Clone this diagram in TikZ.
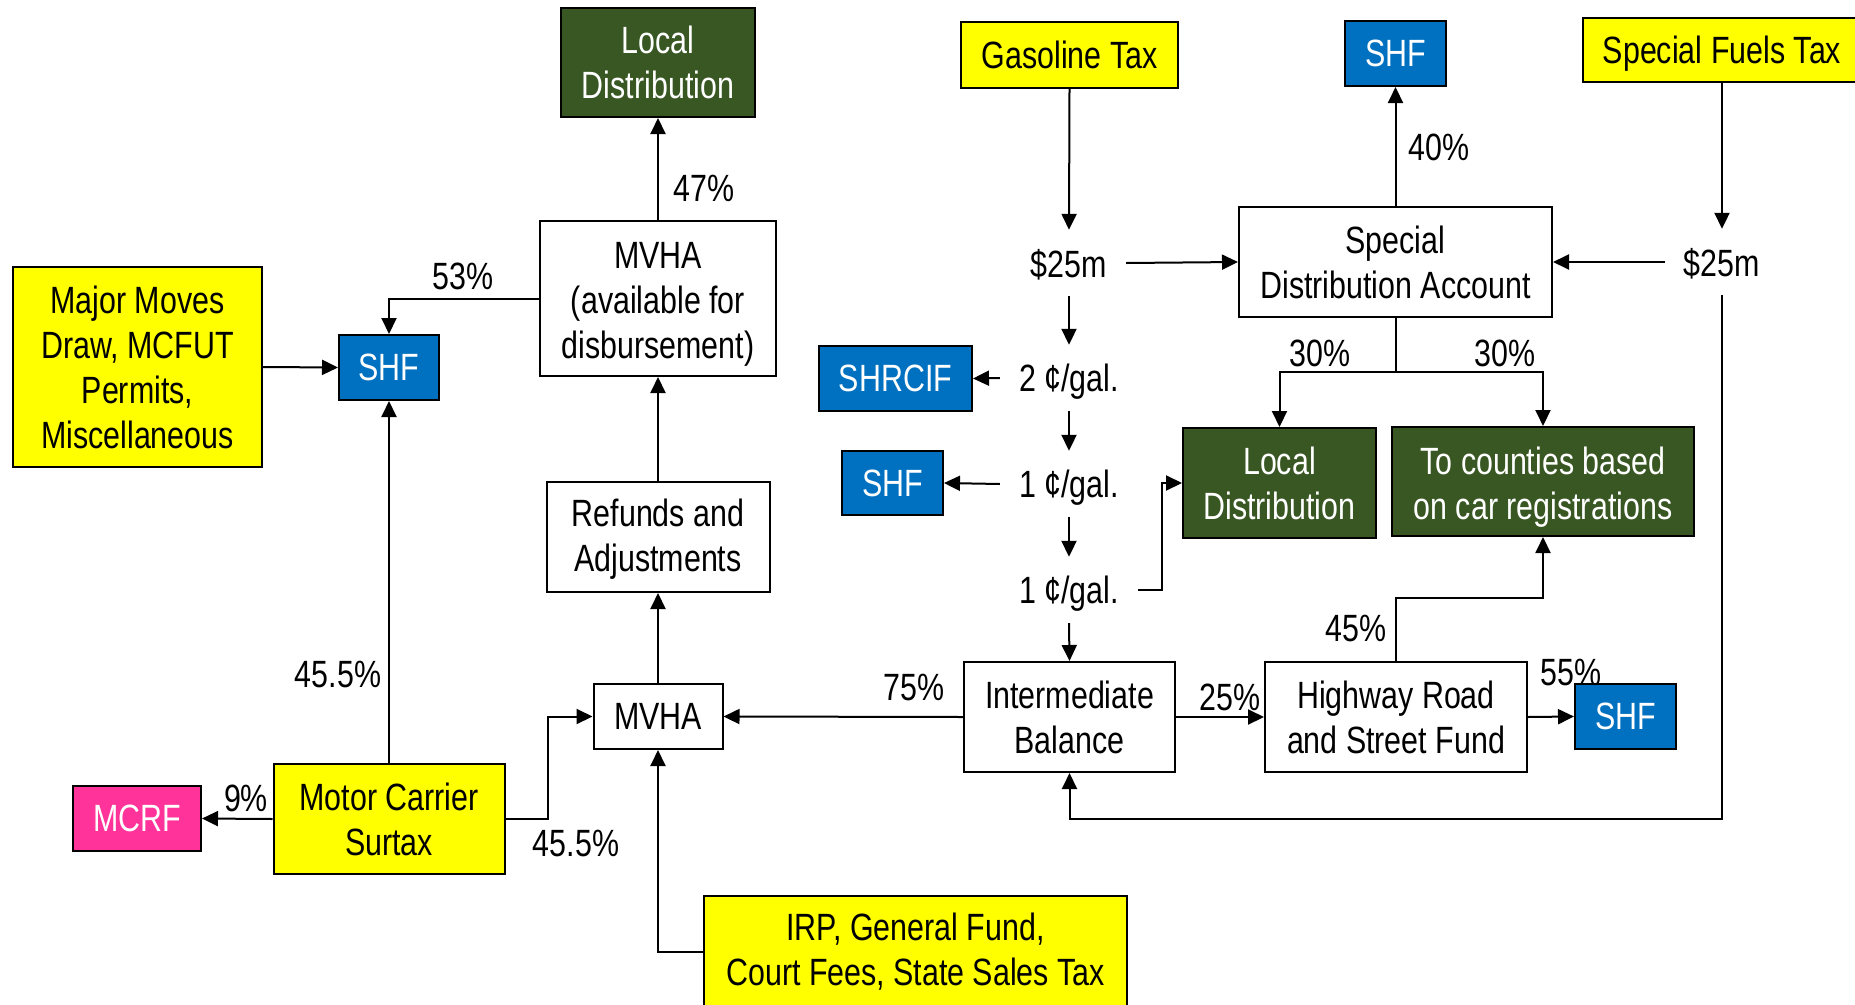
\documentclass[tikz,border=0pt]{standalone}
\usepackage{fontspec}
\setmainfont{Liberation Sans}[FakeStretch=0.8]
\usetikzlibrary{arrows.meta,calc}
\definecolor{yel}{HTML}{FFFF00}
\definecolor{blu}{HTML}{0070C0}
\definecolor{grn}{HTML}{385723}
\definecolor{pnk}{HTML}{FF3399}
\begin{document}
\begin{tikzpicture}[x=1pt,y=-1pt,
  every node/.style={font=\fontsize{38}{45}\selectfont},
  bx/.style={draw=black, line width=2pt, inner sep=0pt, align=center},
  wbox/.style={bx, fill=white},
  ybox/.style={bx, fill=yel},
  bbox/.style={bx, fill=blu, text=white},
  gbox/.style={bx, fill=grn, text=white},
  pbox/.style={bx, fill=pnk, text=white},
  flow/.style={inner xsep=19pt, inner ysep=0pt, minimum height=66pt, text depth=0pt},
  lab/.style={inner sep=0pt},
  ln/.style={line width=2pt},
  conn/.style={line width=2pt, -{Triangle[length=16pt,width=15pt]}}
]
\useasboundingbox (0,0) rectangle (1855,1004);
\fill[white] (0,0) rectangle (1855,1004);

% boxes
\node[gbox, minimum width=194pt, minimum height=109pt] (locT) at (658,62.5) {Local\\Distribution};
\node[wbox, minimum width=236pt, minimum height=155pt] (mvhaA) at (658,298.5) {\rule{0pt}{37pt}MVHA\\(available for\\disbursement)};
\node[ybox, minimum width=249pt, minimum height=200pt] (major) at (137.5,367) {Major Moves\\Draw, MCFUT\\Permits,\\Miscellaneous};
\node[bbox, minimum width=100pt, minimum height=65pt] (shfL) at (389,367.5) {SHF};
\node[wbox, minimum width=223pt, minimum height=110pt] (ref) at (658,537) {\rule{0pt}{31pt}Refunds and\\Adjustments};
\node[wbox, minimum width=129pt, minimum height=65pt] (mvhaS) at (658,716.5) {MVHA};
\node[ybox, minimum width=231pt, minimum height=110pt] (mcs) at (389,819) {Motor Carrier\\Surtax};
\node[pbox, minimum width=128pt, minimum height=65pt] (mcrf) at (137,818.5) {MCRF};
\node[ybox, minimum width=423pt, minimum height=112pt] (irp) at (915.5,952) {IRP, General Fund,\\Court Fees, State Sales Tax};

\node[ybox, minimum width=217pt, minimum height=66pt] (gas) at (1069.5,55) {Gasoline Tax};
\node[bbox, minimum width=101pt, minimum height=65pt] (shfT) at (1395.5,53.5) {SHF};
\node[ybox, minimum width=279pt, minimum height=64pt, text depth=0pt] (sft) at (1722,50) {Special Fuels Tax};
\node[wbox, minimum width=313pt, minimum height=110pt] (sda) at (1395.5,262) {Special\\Distribution Account};
\node[bbox, minimum width=153pt, minimum height=65pt] (shrcif) at (895.5,378.5) {SHRCIF};
\node[bbox, minimum width=101pt, minimum height=64pt] (shfM) at (892.5,483) {SHF};
\node[gbox, minimum width=193pt, minimum height=110pt] (locM) at (1279.5,483) {Local\\Distribution};
\node[gbox, minimum width=302pt, minimum height=109pt] (cty) at (1543,481.5) {\rule{0pt}{38pt}To counties based\\on car registrations};
\node[wbox, minimum width=211pt, minimum height=110pt] (ib) at (1069.5,717) {Intermediate\\Balance};
\node[wbox, minimum width=262pt, minimum height=110pt] (hr) at (1396,717) {Highway Road\\and Street Fund};
\node[bbox, minimum width=101pt, minimum height=65pt] (shfR) at (1625.5,716.5) {SHF};

% flow text nodes
\node[flow] (d25L) at (1069,263) {\$25m};
\node[flow] (d25R) at (1722,262) {\$25m};
\node[flow] (c2) at (1069,378) {2 ¢/gal.};
\node[flow] (c1a) at (1069,484) {1 ¢/gal.};
\node[flow] (c1b) at (1069,590) {1 ¢/gal.};

% connectors left part
\draw[conn] (mvhaA.north) -- (locT.south);
\draw[conn] (mvhaA.west) -| (shfL.north);
\draw[conn] (major.east) -- (shfL.west);
\draw[conn] (ref.north) -- (mvhaA.south);
\draw[conn] (mvhaS.north) -- (ref.south);
\draw[conn] (mcs.north) -- (shfL.south);
\draw[conn] (mcs.west) -- (mcrf.east);
\coordinate (mk) at (548,819);
\draw[conn] (mcs.east) -- (mk) |- (mvhaS.west);
\draw[conn] (irp.west) -| (mvhaS.south);
\draw[conn] (ib.west) -- (mvhaS.east);

% right part
\draw[conn] (gas.south) -- (d25L.north);
\draw[conn] (d25L.east) -- (sda.west);
\draw[conn] (sft.south) -- (d25R.north);
\draw[conn] (d25R.west) -- (sda.east);
\draw[conn] (sda.north) -- (shfT.south);
\coordinate (split) at (1395.5,372);
\draw[ln] (sda.south) -- (split);
\draw[conn] (split) -| (locM.north);
\draw[conn] (split) -| (cty.north);
\draw[conn] (d25L.south) -- (c2.north);
\draw[conn] (c2.west) -- (shrcif.east);
\draw[conn] (c2.south) -- (c1a.north);
\draw[conn] (c1a.west) -- (shfM.east);
\draw[conn] (c1a.south) -- (c1b.north);
\draw[conn] (c1b.south) -- (ib.north);
\coordinate (ck) at (1162,590);
\draw[conn] (c1b.east) -- (ck) |- (locM.west);
\draw[conn] (ib.east) -- (hr.west);
\draw[conn] (hr.east) -- (shfR.west);
\coordinate (hk) at (1396,598);
\draw[conn] (hr.north) -- (hk) -| (cty.south);
\coordinate (bk) at (1722,819);
\draw[conn] (d25R.south) -- (bk) -| (ib.south);

% labels
\node[lab] (l53) at (463,276) {53\%};
\node[lab] (l47) at (704,188) {47\%};
\node[lab] (l40) at (1439,147) {40\%};
\node[lab] (l30a) at (1320,353) {30\%};
\node[lab] (l30b) at (1505,353) {30\%};
\node[lab] (l455a) at (338,674) {45.5\%};
\node[lab] (l9) at (246,798) {9\%};
\node[lab] (l455b) at (576,843) {45.5\%};
\node[lab] (l75) at (914,687) {75\%};
\node[lab] (l25) at (1230,697) {25\%};
\node[lab] (l55) at (1571,672) {55\%};
\node[lab] (l45) at (1356,628) {45\%};
\end{tikzpicture}
\end{document}
